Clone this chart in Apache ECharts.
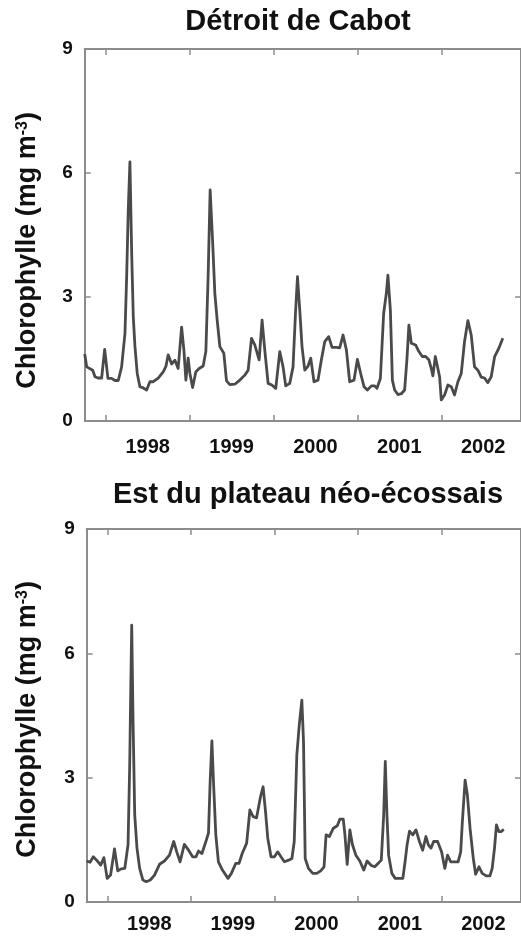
<!DOCTYPE html>
<html>
<head>
<meta charset="utf-8">
<script src="https://cdn.jsdelivr.net/npm/echarts@6/dist/echarts.min.js"></script>
<style>html,body{margin:0;padding:0;background:#fff}#c{width:521px;height:936px}</style>
</head>
<body>
<div id="c"></div>
<script>
const panelTitles = ['Détroit de Cabot', 'Est du plateau néo-écossais'];
const yTitleMain1 = 'Chlorophylle (mg m';
const yTitleSup = '-3';
const yTitleMain2 = ')';
const yearTicks = [1998, 1999, 2000, 2001, 2002];
const yearLabelPositions = [1998.5, 1999.5, 2000.5, 2001.5, 2002.5];
const xMin = 1997.75, xMax = 2002.95;
const yMin = 0, yMax = 9, yStep = 3;

const cabotYears = [1997.75, 1997.774, 1997.789, 1997.845, 1997.873, 1997.908, 1997.952, 1997.988, 1998.027, 1998.071,
  1998.111, 1998.150, 1998.190, 1998.230, 1998.250, 1998.269, 1998.289, 1998.310, 1998.329, 1998.349,
  1998.376, 1998.408, 1998.448, 1998.488, 1998.527, 1998.567, 1998.626, 1998.686, 1998.718, 1998.745,
  1998.786, 1998.825, 1998.845, 1998.864, 1998.905, 1998.932, 1998.956, 1998.983, 1999.004, 1999.036,
  1999.075, 1999.114, 1999.162, 1999.194, 1999.221, 1999.245, 1999.274, 1999.301, 1999.329, 1999.361,
  1999.408, 1999.440, 1999.480, 1999.539, 1999.599, 1999.658, 1999.698, 1999.738, 1999.777, 1999.829,
  1999.864, 1999.896, 1999.936, 1999.980, 2000.027, 2000.075, 2000.114, 2000.146, 2000.194, 2000.233,
  2000.262, 2000.286, 2000.313, 2000.340, 2000.373, 2000.412, 2000.444, 2000.483, 2000.531, 2000.571,
  2000.611, 2000.658, 2000.698, 2000.750, 2000.789, 2000.829, 2000.869, 2000.908, 2000.960, 2001.000,
  2001.039, 2001.079, 2001.119, 2001.167, 2001.206, 2001.233, 2001.274, 2001.313, 2001.345, 2001.364,
  2001.393, 2001.417, 2001.444, 2001.483, 2001.524, 2001.563, 2001.590, 2001.614, 2001.643, 2001.694,
  2001.733, 2001.774, 2001.813, 2001.852, 2001.881, 2001.900, 2001.929, 2001.952, 2001.980, 2002.000,
  2002.039, 2002.079, 2002.119, 2002.158, 2002.198, 2002.238, 2002.277, 2002.317, 2002.357, 2002.396,
  2002.436, 2002.476, 2002.515, 2002.555, 2002.595, 2002.636, 2002.686, 2002.733];
const cabotChl = [1.62, 1.31, 1.28, 1.23, 1.07, 1.04, 1.04, 1.73, 1.03, 1.03,
  0.98, 0.98, 1.31, 2.12, 3.49, 5.1, 6.27, 4.06, 2.52, 1.8,
  1.15, 0.83, 0.80, 0.75, 0.95, 0.95, 1.04, 1.19, 1.32, 1.6,
  1.38, 1.47, 1.47, 1.27, 2.27, 1.72, 0.99, 1.52, 1.15, 0.81,
  1.19, 1.27, 1.33, 1.68, 3.49, 5.59, 4.38, 3.09, 2.44, 1.8,
  1.64, 0.97, 0.88, 0.89, 0.99, 1.11, 1.23, 2.0, 1.84, 1.48,
  2.44, 1.72, 0.91, 0.87, 0.79, 1.68, 1.31, 0.85, 0.91, 1.31,
  2.6, 3.49, 2.69, 1.8, 1.23, 1.33, 1.52, 0.95, 0.99, 1.48,
  1.92, 2.04, 1.78, 1.78, 1.77, 2.08, 1.72, 0.95, 0.99, 1.49,
  1.15, 0.83, 0.75, 0.85, 0.85, 0.79, 1.03, 2.6, 3.09, 3.53,
  2.69, 0.99, 0.75, 0.64, 0.66, 0.75, 1.48, 2.32, 1.88, 1.84,
  1.68, 1.56, 1.56, 1.48, 1.27, 1.09, 1.56, 1.6, 1.07, 0.51,
  0.63, 0.87, 0.83, 0.63, 0.95, 1.15, 1.92, 2.43, 2.08, 1.31,
  1.23, 1.06, 1.04, 0.93, 1.07, 1.56, 1.76, 2.0];

const essYears = [1997.750, 1997.790, 1997.829, 1997.869, 1997.917, 1997.956, 1997.995, 1998.036, 1998.083, 1998.122,
  1998.162, 1998.206, 1998.245, 1998.265, 1998.277, 1998.289, 1998.304, 1998.325, 1998.352, 1998.384,
  1998.423, 1998.464, 1998.511, 1998.562, 1998.622, 1998.681, 1998.741, 1998.792, 1998.828, 1998.868,
  1998.919, 1998.970, 1999.018, 1999.058, 1999.089, 1999.130, 1999.177, 1999.208, 1999.228, 1999.249,
  1999.268, 1999.296, 1999.327, 1999.375, 1999.442, 1999.482, 1999.534, 1999.573, 1999.612, 1999.665,
  1999.704, 1999.743, 1999.784, 1999.831, 1999.862, 1999.891, 1999.918, 1999.957, 1999.998, 2000.037,
  2000.076, 2000.117, 2000.168, 2000.207, 2000.235, 2000.266, 2000.295, 2000.326, 2000.346, 2000.366,
  2000.405, 2000.457, 2000.504, 2000.552, 2000.592, 2000.616, 2000.655, 2000.703, 2000.750, 2000.782,
  2000.822, 2000.842, 2000.869, 2000.901, 2000.932, 2000.973, 2001.020, 2001.068, 2001.107, 2001.158,
  2001.199, 2001.238, 2001.277, 2001.306, 2001.325, 2001.345, 2001.365, 2001.404, 2001.444, 2001.496,
  2001.535, 2001.562, 2001.586, 2001.615, 2001.654, 2001.693, 2001.734, 2001.773, 2001.812, 2001.841,
  2001.872, 2001.904, 2001.951, 2001.999, 2002.038, 2002.070, 2002.109, 2002.157, 2002.197, 2002.228,
  2002.248, 2002.281, 2002.308, 2002.340, 2002.379, 2002.407, 2002.447, 2002.486, 2002.534, 2002.578,
  2002.605, 2002.633, 2002.656, 2002.685, 2002.712, 2002.744];
const essChl = [0.99, 0.96, 1.09, 1.01, 0.89, 1.07, 0.57, 0.65, 1.28, 0.75,
  0.80, 0.81, 1.38, 3.31, 5.07, 6.68, 4.51, 2.10, 1.30, 0.81,
  0.53, 0.49, 0.53, 0.65, 0.91, 0.99, 1.13, 1.46, 1.21, 0.97,
  1.39, 1.25, 1.09, 1.09, 1.23, 1.17, 1.46, 1.66, 2.90, 3.89,
  2.90, 1.62, 0.97, 0.77, 0.57, 0.69, 0.93, 0.93, 1.17, 1.42,
  2.22, 2.06, 2.03, 2.54, 2.78, 2.18, 1.54, 1.09, 1.09, 1.21,
  1.09, 0.97, 1.01, 1.05, 1.46, 3.55, 4.27, 4.87, 3.87, 1.05,
  0.81, 0.69, 0.69, 0.75, 0.85, 1.62, 1.58, 1.78, 1.84, 2.00,
  2.00, 1.62, 0.91, 1.74, 1.38, 1.13, 0.99, 0.77, 0.99, 0.88,
  0.85, 0.93, 1.01, 2.10, 3.39, 2.10, 1.13, 0.69, 0.57, 0.57,
  0.57, 0.97, 1.38, 1.71, 1.62, 1.74, 1.46, 1.25, 1.58, 1.38,
  1.30, 1.46, 1.46, 1.21, 0.81, 1.13, 0.97, 0.97, 0.97, 1.21,
  1.94, 2.94, 2.58, 1.78, 1.05, 0.67, 0.85, 0.69, 0.63, 0.63,
  0.81, 1.30, 1.86, 1.70, 1.70, 1.75];

const FONT = '"Liberation Sans", Arial, Helvetica, sans-serif';
const AXIS_COLOR = '#8c8c8c';
const LINE_COLOR = '#4a4a4a';
const TEXT_COLOR = '#111';

function pairs(xs, ys) { return xs.map((x, i) => [x, ys[i]]); }

function xAxes(g, pos, labelMargin) {
  const common = {
    type: 'value', gridIndex: g, min: xMin, max: xMax, position: pos,
    axisLine: { show: true, onZero: false, lineStyle: { color: AXIS_COLOR, width: 2 } },
    axisTick: { show: true, inside: true, length: 6, customValues: yearTicks, lineStyle: { color: AXIS_COLOR, width: 1.5 } },
    splitLine: { show: false }
  };
  if (pos === 'bottom') {
    common.axisLabel = { show: true, customValues: yearLabelPositions, formatter: v => String(Math.floor(v)),
      fontFamily: FONT, fontSize: 20, fontWeight: 'bold', color: TEXT_COLOR, margin: labelMargin };
  } else {
    common.axisLabel = { show: false };
  }
  return common;
}
function yAxes(g, pos) {
  return {
    type: 'value', gridIndex: g, min: yMin, max: yMax, interval: yStep, position: pos,
    axisLine: { show: true, onZero: false, lineStyle: { color: AXIS_COLOR, width: 2 } },
    axisTick: { show: true, inside: true, length: 6, lineStyle: { color: AXIS_COLOR, width: 1.5 } },
    axisLabel: pos === 'left' ? { show: true, fontFamily: FONT, fontSize: 19, fontWeight: 'bold', color: TEXT_COLOR, margin: 12 } : { show: false },
    splitLine: { show: false }
  };
}
function yTitle(x, yEnd) {
  return {
    type: 'text', x: x, y: yEnd, rotation: Math.PI / 2, silent: true,
    style: {
      text: '{a|' + yTitleMain1 + '}{s|' + yTitleSup + '}{a|' + yTitleMain2 + '}',
      align: 'right', verticalAlign: 'middle',
      rich: {
        a: { fontFamily: FONT, fontSize: 27, fontWeight: 'bold', fill: TEXT_COLOR, color: TEXT_COLOR },
        s: { fontFamily: FONT, fontSize: 16, fontWeight: 'bold', fill: TEXT_COLOR, color: TEXT_COLOR, verticalAlign: 'top' }
      }
    }
  };
}

const chart = echarts.init(document.getElementById('c'), null, { renderer: 'canvas' });
chart.setOption({
  backgroundColor: '#fff',
  animation: false,
  title: [
    { text: panelTitles[0], left: 293, top: 2, textAlign: 'center', textStyle: { fontFamily: FONT, fontSize: 29, fontWeight: 'bold', color: TEXT_COLOR } },
    { text: panelTitles[1], left: 303, top: 475, textAlign: 'center', textStyle: { fontFamily: FONT, fontSize: 29, fontWeight: 'bold', color: TEXT_COLOR } }
  ],
  grid: [
    { left: 84.7, top: 49, width: 436.8, height: 372, containLabel: false },
    { left: 86.7, top: 529, width: 437.3, height: 373, containLabel: false }
  ],
  xAxis: [xAxes(0, 'bottom', 16), xAxes(0, 'top', 0), xAxes(1, 'bottom', 12), xAxes(1, 'top', 0)],
  yAxis: [yAxes(0, 'left'), yAxes(0, 'right'), yAxes(1, 'left'), yAxes(1, 'right')],
  graphic: [yTitle(28, 112), yTitle(28, 581)],
  series: [
    { type: 'line', xAxisIndex: 0, yAxisIndex: 0, data: pairs(cabotYears, cabotChl), showSymbol: false, symbol: 'none',
      lineStyle: { color: LINE_COLOR, width: 2.8, join: 'round' }, clip: true },
    { type: 'line', xAxisIndex: 2, yAxisIndex: 2, data: pairs(essYears, essChl), showSymbol: false, symbol: 'none',
      lineStyle: { color: LINE_COLOR, width: 2.8, join: 'round' }, clip: true }
  ]
});
</script>
</body>
</html>
